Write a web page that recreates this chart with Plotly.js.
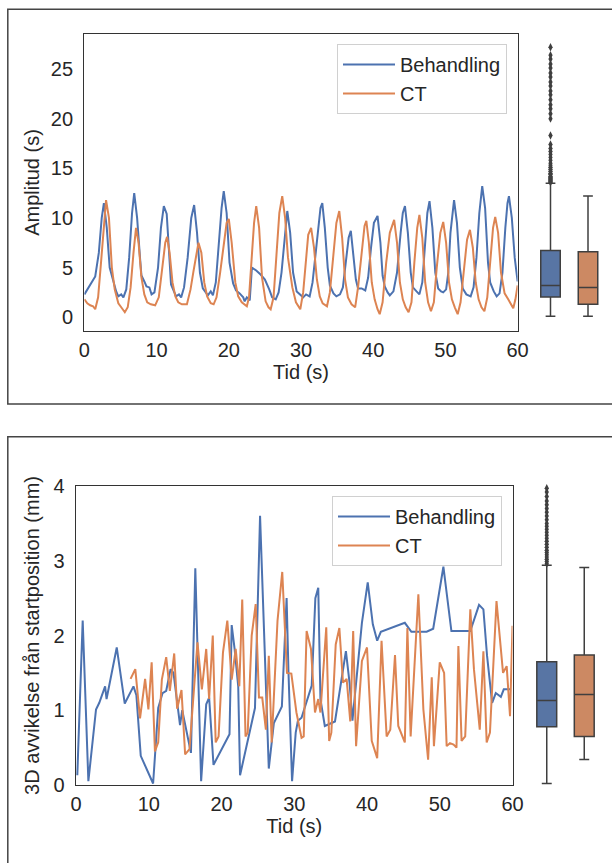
<!DOCTYPE html>
<html>
<head>
<meta charset="utf-8">
<script src="https://cdn.plot.ly/plotly-3.0.1.min.js"></script>
<style>
html,body{margin:0;padding:0;background:#fff;}
#chart{width:612px;height:863px;}
</style>
</head>
<body>
<div id="chart"></div>
<script>
// ---------- Top panel: Amplitud (s) ----------
const ampBehT = [0,0.8,1.5,2.0,2.4,2.7,3.1,3.5,4.0,4.4,4.7,5.1,5.4,5.8,6.2,6.6,6.9,7.3,7.7,7.9,8.3,8.6,9.0,9.3,9.7,10.2,10.6,11.0,11.4,11.8,12.0,12.4,12.7,13.1,13.4,13.8,14.3,14.8,15.2,15.6,16.0,16.4,16.8,17.1,17.5,17.8,18.2,18.6,19.0,19.3,19.7,20.1,20.6,21.0,21.5,22.0,22.2,22.5,22.9,23.2,23.8,24.4,25.0,25.6,26.0,26.5,26.9,27.3,27.7,28.1,28.5,28.9,29.4,29.8,30.3,30.7,31.2,31.6,32.0,32.4,32.7,32.95,33.3,33.7,34.0,34.5,34.9,35.4,35.8,36.2,36.6,36.9,37.3,37.6,37.9,38.4,38.9,39.3,39.7,40.1,40.6,41.0,41.3,41.6,42.0,42.3,42.8,43.3,43.8,44.1,44.4,44.8,45.2,45.5,46.0,46.4,46.8,47.2,47.5,47.8,48.2,48.6,49.0,49.4,49.7,50.1,50.4,50.7,51.0,51.2,51.6,52.0,52.4,52.9,53.5,53.9,54.3,54.7,55.1,55.5,55.9,56.2,56.7,57.1,57.5,57.9,58.3,58.6,58.8,59.2,59.6,60.0];
const ampBehV = [2.3,3.2,4.1,6.5,10.0,11.5,9.0,5.0,3.5,2.6,2.1,2.3,2.0,2.8,6.0,10.5,12.5,10.0,6.0,4.2,3.6,3.1,3.0,2.3,2.5,5.0,9.0,11.2,10.4,5.5,3.3,2.6,2.1,2.3,2.0,3.0,6.0,10.0,11.3,8.5,4.5,2.9,2.5,2.2,2.6,2.2,3.5,7.0,11.0,12.7,10.5,5.5,3.4,2.7,2.4,2.0,1.6,2.0,1.7,5.0,4.7,4.3,3.8,2.8,2.0,1.8,2.5,4.5,7.5,10.7,8.5,4.5,2.6,2.3,2.0,2.3,2.1,3.5,6.5,9.5,11.0,11.5,9.0,5.0,3.2,2.4,2.1,2.3,3.0,5.5,8.0,8.7,6.0,3.8,2.9,2.9,2.7,4.0,7.0,9.5,10.2,7.5,4.2,3.1,2.5,2.2,2.6,4.5,8.5,10.5,11.2,8.5,4.5,3.0,2.6,2.3,3.5,7.5,10.5,11.7,9.0,4.5,2.9,2.6,2.5,2.8,4.5,8.5,11.0,11.8,9.5,5.0,2.9,2.3,2.1,3.0,6.0,10.5,13.2,11.0,5.5,3.5,2.6,2.1,2.4,4.5,9.0,11.5,12.2,10.0,6.0,3.6];

const ampCtT = [0,0.4,0.8,1.2,1.5,1.9,2.3,2.7,3.0,3.4,3.8,4.2,4.7,5.1,5.6,6.0,6.4,6.8,7.15,7.5,7.9,8.3,8.7,9.2,9.8,10.3,10.8,11.2,11.45,11.8,12.2,12.6,13.0,13.5,14.2,14.7,15.1,15.5,15.8,16.2,16.6,17.0,17.5,17.9,18.3,18.8,19.3,19.7,20.0,20.4,20.9,21.3,21.8,22.5,22.8,23.1,23.5,23.8,24.2,24.6,25.1,25.5,25.8,26.2,26.6,27.0,27.4,27.8,28.2,28.8,29.3,29.9,30.3,30.7,31.0,31.4,31.8,32.2,32.6,33.0,33.6,34.0,34.4,34.9,35.3,35.7,36.1,36.5,37.0,37.5,37.9,38.4,38.8,39.05,39.4,39.8,40.2,40.6,40.9,41.3,41.8,42.3,42.9,43.3,43.7,44.1,44.5,44.9,45.3,45.7,46.1,46.4,46.8,47.2,47.6,48.0,48.4,48.8,49.3,49.7,50.1,50.5,50.9,51.3,51.7,52.1,52.6,53.0,53.4,53.8,54.2,54.6,55.0,55.4,55.8,56.2,56.6,56.9,57.3,57.7,58.2,58.7,59.1,59.4,59.7,60.0];
const ampCtV = [1.8,1.4,1.2,1.1,0.8,2.0,5.5,9.5,11.8,10.0,5.0,2.8,1.4,1.0,0.5,1.0,3.0,6.5,9.0,7.5,4.0,2.3,1.5,1.3,1.2,2.0,5.0,7.5,8.1,6.5,3.5,2.1,1.5,1.3,1.3,2.8,4.6,6.5,7.5,6.5,3.5,2.1,1.4,1.3,2.0,4.5,7.5,9.5,9.9,7.5,3.5,2.1,1.5,1.1,2.0,5.0,9.5,11.2,9.0,4.0,1.6,1.0,0.8,2.0,6.0,10.5,12.2,10.0,6.0,3.0,1.5,0.8,2.5,6.0,8.3,9.0,7.0,3.8,2.1,1.4,1.1,2.5,6.0,9.5,10.7,8.0,3.8,2.0,1.3,1.0,3.0,6.5,9.2,9.7,7.5,3.5,1.8,0.8,0.3,1.5,5.5,8.5,9.8,7.5,3.5,1.8,1.0,0.5,1.5,5.5,9.0,10.3,8.0,3.5,1.5,0.6,1.5,5.0,8.5,9.6,7.5,3.5,1.8,1.0,0.3,1.5,5.0,7.8,8.8,7.0,3.5,1.8,1.0,0.6,2.0,6.0,9.0,10.1,8.5,4.5,2.4,1.8,1.2,0.9,1.8,3.2];

// box statistics (Amplitud)
const ampBoxBeh = {q1: 2.04, median: 3.2, q3: 6.73, lo: 0.1, hi: 13.5};
const ampBoxCt  = {q1: 1.3, median: 3.0, q3: 6.6, lo: 0.1, hi: 12.2};
const ampBehOutliers = [13.6,13.7,13.8,13.9,14.0,14.1,14.2,14.4,14.5,14.7,14.9,15.1,15.3,15.5,15.8,16.1,16.4,16.7,17.0,17.4,18.3,20.0,20.5,21.0,21.4,21.9,22.4,22.8,23.3,23.7,24.2,24.6,25.1,25.5,26.0,26.4,27.2];

// ---------- Bottom panel: 3D avvikelse (mm) ----------
const devBehT = [0.18,0.92,1.7,2.75,3.2,4.0,4.2,5.6,6.7,7.9,8.3,8.9,10.6,11.3,11.9,12.4,13.0,13.4,14.3,14.6,15.8,16.4,17.2,17.9,18.3,18.9,21.1,21.4,21.8,22.3,22.55,24.6,25.3,26.5,27.2,28.3,28.95,29.2,29.7,30.2,30.5,31.0,32.4,32.9,33.3,33.6,34.2,34.9,35.6,37.1,37.6,38.0,39.3,40.1,40.8,41.4,41.9,45.2,46.1,48.2,49.1,50.5,51.6,54.2,55.4,56.0,56.5,57.2,57.7,58.4,58.8,59.7];
const devBehV = [0.13,2.2,0.05,1.01,1.1,1.32,1.15,1.84,1.09,1.32,1.2,0.39,0.02,1.03,1.23,1.26,1.55,1.5,0.8,1.0,0.43,2.9,0.05,1.08,1.17,0.27,0.68,2.14,1.82,1.32,0.13,1.03,3.6,0.22,0.83,1.05,2.5,1.53,0.05,0.7,0.86,0.9,1.33,2.5,2.64,1.15,0.79,0.82,0.85,1.79,1.37,0.86,2.17,2.71,2.15,1.93,2.05,2.17,2.05,2.05,2.09,2.92,2.06,2.06,2.41,2.35,1.73,1.1,1.23,1.18,1.28,1.28];

const devCtT = [7.5,8.15,8.8,9.5,9.95,10.4,10.85,11.3,11.8,12.4,12.9,13.5,13.9,14.5,15.0,15.6,16.7,17.3,17.9,18.3,18.8,19.2,19.6,20.2,20.8,21.4,21.95,22.45,22.85,23.3,23.6,24.15,24.7,25.15,25.6,26.1,26.5,26.9,27.7,28.35,29.0,29.6,30.3,31.0,31.3,31.7,32.3,32.85,33.3,33.6,34.4,34.8,35.1,35.7,36.2,36.7,37.2,37.7,38.1,38.5,39.3,40.0,40.65,41.4,42.0,42.7,43.2,43.85,44.3,45.2,45.55,46.0,47.06,47.75,48.4,48.9,49.2,50.0,50.6,50.95,51.4,51.9,52.3,52.56,53.0,53.5,54.2,54.7,55.5,56.0,56.45,56.9,57.8,58.7,59.2,59.66,60.0];
const devCtV = [1.42,1.55,0.89,1.42,1.01,1.64,0.45,0.57,1.41,1.71,1.26,1.76,1.02,1.27,0.41,0.48,1.91,1.28,1.82,1.15,2.0,0.57,0.65,1.77,2.2,1.41,1.82,1.32,2.48,0.65,0.7,2.0,2.42,1.17,1.17,0.74,1.73,0.57,2.2,2.85,1.5,1.49,0.97,0.63,0.65,2.06,1.82,0.97,1.15,0.97,2.11,0.59,0.7,1.88,2.1,1.37,1.42,0.85,2.06,0.52,1.66,1.84,0.59,0.36,1.93,0.65,0.74,1.74,0.79,0.57,2.1,0.65,2.55,1.01,0.34,1.44,0.52,1.64,1.5,0.52,0.56,0.54,0.5,1.86,0.59,0.65,2.35,1.55,0.74,1.79,0.57,0.7,2.46,1.5,1.59,0.92,2.13];

const devBoxBeh = {q1: 0.78, median: 1.13, q3: 1.65, lo: 0.02, hi: 2.94};
const devBoxCt  = {q1: 0.65, median: 1.21, q3: 1.74, lo: 0.34, hi: 2.91};
const devBehOutliers = [2.96,2.99,3.02,3.05,3.08,3.11,3.14,3.18,3.22,3.26,3.3,3.34,3.38,3.42,3.46,3.5,3.55,3.6,3.65,3.7,3.75,3.8,3.86,3.92,3.97];

const seriesNames = ['Behandling', 'CT'];
const xTicks = [0,10,20,30,40,50,60];
const ampTicks = [0,5,10,15,20,25];
const devTicks = [0,1,2,3,4];

// ---------- styling ----------
const W = 612, H = 863;
const BLUE = '#4c72b0', ORANGE = '#dd8452';
const BOX_BLUE = '#5875a4', BOX_ORANGE = '#cc8963';
const GRAY = '#3f3f3f';
const TXT = '#262626';
const FONT = 'Liberation Sans, Arial, sans-serif';
const px = v => v / W;
const py = v => 1 - v / H;

function lineTrace(x, y, name, color, xa, ya, legend, show) {
  return {type: 'scatter', mode: 'lines', x: x, y: y, name: name,
    line: {color: color, width: 2}, xaxis: xa, yaxis: ya, legend: legend, showlegend: show};
}
function boxTrace(pos, s, fill, xa, ya, w) {
  return {type: 'box', x: [pos], q1: [s.q1], median: [s.median], q3: [s.q3],
    lowerfence: [s.lo], upperfence: [s.hi], boxpoints: false, width: w,
    whiskerwidth: 0.5, fillcolor: fill, line: {color: GRAY, width: 1.5},
    xaxis: xa, yaxis: ya, showlegend: false, hoverinfo: 'skip'};
}
function outlierTrace(pos, vals, xa, ya) {
  return {type: 'scatter', mode: 'markers', x: vals.map(() => pos), y: vals,
    marker: {symbol: 'diamond-tall', size: 6, color: GRAY, line: {width: 0}},
    xaxis: xa, yaxis: ya, showlegend: false, cliponaxis: false, hoverinfo: 'skip'};
}

const traces = [
  lineTrace(ampBehT, ampBehV, seriesNames[0], BLUE, 'x', 'y', 'legend', true),
  lineTrace(ampCtT, ampCtV, seriesNames[1], ORANGE, 'x', 'y', 'legend', true),
  boxTrace(0, ampBoxBeh, BOX_BLUE, 'x2', 'y2', 0.52),
  boxTrace(1, ampBoxCt, BOX_ORANGE, 'x2', 'y2', 0.52),
  outlierTrace(0, ampBehOutliers, 'x2', 'y2'),
  lineTrace(devBehT, devBehV, seriesNames[0], BLUE, 'x3', 'y3', 'legend2', true),
  lineTrace(devCtT, devCtV, seriesNames[1], ORANGE, 'x3', 'y3', 'legend2', true),
  boxTrace(0, devBoxBeh, BOX_BLUE, 'x4', 'y4', 0.53),
  boxTrace(1, devBoxCt, BOX_ORANGE, 'x4', 'y4', 0.53),
  outlierTrace(0, devBehOutliers, 'x4', 'y4')
];

const axisBase = {showline: true, mirror: true, linecolor: '#333', linewidth: 1.3,
  showgrid: false, zeroline: false, ticks: '', automargin: false,
  tickfont: {family: FONT, size: 20, color: TXT}};
const xAxisBase = Object.assign({}, axisBase, {ticklabelstandoff: 1});
const yAxisBase = Object.assign({}, axisBase, {ticklabelstandoff: 6});
const hidden = {visible: false, showgrid: false, zeroline: false, fixedrange: true};
const legendBase = {xanchor: 'left', yanchor: 'top', bgcolor: '#fff', itemwidth: 52,
  bordercolor: '#d0d0d0', borderwidth: 1, font: {family: FONT, size: 20, color: TXT}};
const titleFont = {family: FONT, size: 20, color: TXT};

const layout = {
  width: W, height: H, margin: {l: 0, r: 0, t: 0, b: 0},
  paper_bgcolor: '#fff', plot_bgcolor: '#fff',
  font: {family: FONT, color: TXT},
  xaxis: Object.assign({}, xAxisBase, {domain: [px(84.4), px(517.6)], range: [0, 60], anchor: 'y',
    tickvals: xTicks, title: {text: 'Tid (s)', font: titleFont, standoff: 4}}),
  yaxis: Object.assign({}, yAxisBase, {domain: [py(330.7), py(34.3)], range: [-1.36, 28.5], anchor: 'x',
    tickvals: ampTicks, title: {text: 'Amplitud (s)', font: titleFont, standoff: 5}}),
  xaxis2: Object.assign({}, hidden, {domain: [px(531.75), px(606.75)], range: [-0.5, 1.5], anchor: 'y2'}),
  yaxis2: Object.assign({}, hidden, {domain: [py(330.7), py(34.3)], range: [-1.36, 28.5], anchor: 'x2'}),
  xaxis3: Object.assign({}, xAxisBase, {domain: [px(76), px(512.5)], range: [0, 60], anchor: 'y3',
    tickvals: xTicks, title: {text: 'Tid (s)', font: titleFont, standoff: 4}}),
  yaxis3: Object.assign({}, yAxisBase, {domain: [py(785), py(486)], range: [0, 4], anchor: 'x3',
    tickvals: devTicks, title: {text: '3D avvikelse från startposition (mm)', font: titleFont, standoff: 8}}),
  xaxis4: Object.assign({}, hidden, {domain: [px(528), px(603)], range: [-0.5, 1.5], anchor: 'y4'}),
  yaxis4: Object.assign({}, hidden, {domain: [py(785), py(486)], range: [0, 4], anchor: 'x4'}),
  legend: Object.assign({}, legendBase, {x: px(337), y: py(44)}),
  legend2: Object.assign({}, legendBase, {x: px(332), y: py(496)}),
  shapes: [
    {type: 'rect', xref: 'paper', yref: 'paper', x0: px(7.8), x1: px(640), y0: py(404), y1: py(9.3),
      line: {color: '#444', width: 1.5}},
    {type: 'rect', xref: 'paper', yref: 'paper', x0: px(7.8), x1: px(640), y0: py(900), y1: py(436.7),
      line: {color: '#444', width: 1.5}}
  ]
};

Plotly.newPlot('chart', traces, layout, {displayModeBar: false, staticPlot: true});
</script>
</body>
</html>
